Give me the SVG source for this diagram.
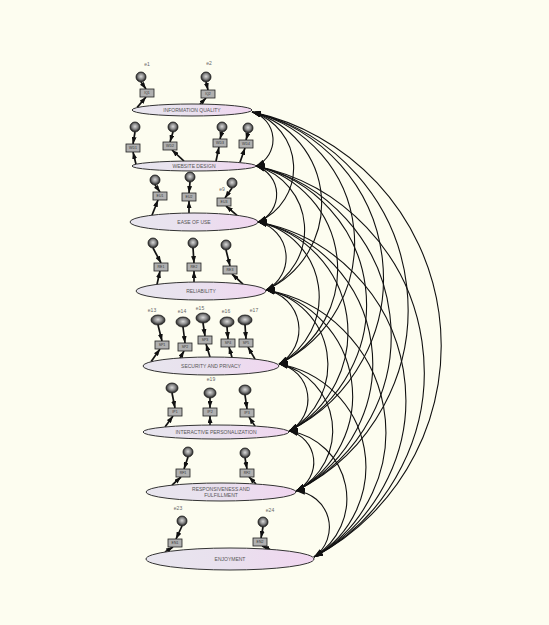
<svg xmlns="http://www.w3.org/2000/svg" width="549" height="625" viewBox="0 0 549 625">
<defs>
<style>
.lat{stroke:#333;stroke-width:1;fill:url(#latg)}
.ltx{font-family:"Liberation Sans",Arial,sans-serif;font-size:5px;fill:#555;text-anchor:middle}
.ind{fill:#b0b0b0;stroke:#222;stroke-width:0.8}
.itx{font-family:"Liberation Sans",Arial,sans-serif;font-size:3.5px;fill:#333;text-anchor:middle}
.err{fill:url(#errg);stroke:#1a1a1a;stroke-width:0.8}
.etx{font-family:"Liberation Sans",Arial,sans-serif;font-size:5px;fill:#666;text-anchor:middle}
.cov{fill:none;stroke:#111;stroke-width:1.1;marker-start:url(#ah);marker-end:url(#ah)}
.reg{fill:none;stroke:#111;stroke-width:1.7;marker-end:url(#ah2)}
</style>
<linearGradient id="latg" x1="0" y1="0" x2="1" y2="0">
<stop offset="0" stop-color="#e8e6ee"/>
<stop offset="0.5" stop-color="#e9e0ee"/>
<stop offset="1" stop-color="#f1d6f0"/>
</linearGradient>
<radialGradient id="errg" cx="0.5" cy="0.45" r="0.5">
<stop offset="0" stop-color="#d8d8d8"/>
<stop offset="0.55" stop-color="#8a8a8a"/>
<stop offset="1" stop-color="#2a2a2a"/>
</radialGradient>
<marker id="ah" markerWidth="9" markerHeight="6" refX="9" refY="3" orient="auto-start-reverse" markerUnits="userSpaceOnUse">
<path d="M0,0 L9,3 L0,6 z" fill="#111"/>
</marker>
<marker id="ah2" markerWidth="7" markerHeight="5" refX="7" refY="2.5" orient="auto" markerUnits="userSpaceOnUse">
<path d="M0,0 L7,2.5 L0,5 z" fill="#111"/>
</marker>
</defs>
<rect x="0" y="0" width="549" height="625" fill="#fdfdf0"/>

<g id="connectors">
<path class="cov" d="M252,112 A28.8,28.8 0 0 1 256,166"/>
<path class="cov" d="M252,112 A58.6,58.6 0 0 1 258,222"/>
<path class="cov" d="M252,112 A95,95 0 0 1 266,290"/>
<path class="cov" d="M252,112 A134.8,134.8 0 0 1 279,364"/>
<path class="cov" d="M252,112 A170.8,170.8 0 0 1 289,431"/>
<path class="cov" d="M252,112 A203,203 0 0 1 296,491"/>
<path class="cov" d="M252,112 A239,239 0 0 1 314,557"/>
<path class="cov" d="M256,166 A29.8,29.8 0 0 1 258,222"/>
<path class="cov" d="M256,166 A66.2,66.2 0 0 1 266,290"/>
<path class="cov" d="M256,166 A106,106 0 0 1 279,364"/>
<path class="cov" d="M256,166 A142,142 0 0 1 289,431"/>
<path class="cov" d="M256,166 A174.2,174.2 0 0 1 296,491"/>
<path class="cov" d="M256,166 A210.3,210.3 0 0 1 314,557"/>
<path class="cov" d="M258,222 A36.4,36.4 0 0 1 266,290"/>
<path class="cov" d="M258,222 A76.3,76.3 0 0 1 279,364"/>
<path class="cov" d="M258,222 A112.4,112.4 0 0 1 289,431"/>
<path class="cov" d="M258,222 A144.5,144.5 0 0 1 296,491"/>
<path class="cov" d="M258,222 A180.7,180.7 0 0 1 314,557"/>
<path class="cov" d="M266,290 A40,40 0 0 1 279,364"/>
<path class="cov" d="M266,290 A76,76 0 0 1 289,431"/>
<path class="cov" d="M266,290 A108.1,108.1 0 0 1 296,491"/>
<path class="cov" d="M266,290 A144.3,144.3 0 0 1 314,557"/>
<path class="cov" d="M279,364 A36,36 0 0 1 289,431"/>
<path class="cov" d="M279,364 A68.1,68.1 0 0 1 296,491"/>
<path class="cov" d="M279,364 A104.3,104.3 0 0 1 314,557"/>
<path class="cov" d="M289,431 A32.1,32.1 0 0 1 296,491"/>
<path class="cov" d="M289,431 A68.4,68.4 0 0 1 314,557"/>
<path class="cov" d="M296,491 A36.4,36.4 0 0 1 314,557"/>

<line class="reg" x1="137" y1="107.6" x2="146" y2="97"/>
<line class="reg" x1="200" y1="104.1" x2="206" y2="98"/>
<line class="reg" x1="136" y1="164.2" x2="133" y2="152"/>
<line class="reg" x1="184" y1="161.2" x2="172" y2="150"/>
<line class="reg" x1="216" y1="161.2" x2="219" y2="147"/>
<line class="reg" x1="240" y1="162.3" x2="245" y2="148"/>
<line class="reg" x1="152" y1="215.2" x2="158" y2="200"/>
<line class="reg" x1="189" y1="213" x2="189" y2="201"/>
<line class="reg" x1="237" y1="215.3" x2="226" y2="206"/>
<line class="reg" x1="157" y1="284.4" x2="160" y2="271"/>
<line class="reg" x1="194" y1="282" x2="194" y2="271"/>
<line class="reg" x1="243" y1="284.1" x2="232" y2="274"/>
<line class="reg" x1="151" y1="361.8" x2="160" y2="349"/>
<line class="reg" x1="180" y1="358" x2="184" y2="351"/>
<line class="reg" x1="210" y1="357" x2="206" y2="344"/>
<line class="reg" x1="232" y1="357.4" x2="229" y2="347"/>
<line class="reg" x1="255" y1="359.1" x2="248" y2="347"/>
<line class="reg" x1="165" y1="427" x2="173" y2="416"/>
<line class="reg" x1="210" y1="425" x2="210" y2="416"/>
<line class="reg" x1="255" y1="426.1" x2="249" y2="417"/>
<line class="reg" x1="172" y1="485.2" x2="181" y2="477"/>
<line class="reg" x1="256" y1="484" x2="249" y2="477"/>
<line class="reg" x1="165" y1="552" x2="173" y2="547"/>
<line class="reg" x1="270" y1="549.3" x2="262" y2="546"/>

<line class="reg" x1="141" y1="82" x2="146" y2="89"/>
<line class="reg" x1="206" y1="82" x2="208" y2="90"/>
<line class="reg" x1="135" y1="132" x2="133" y2="144"/>
<line class="reg" x1="173" y1="132" x2="170" y2="142"/>
<line class="reg" x1="222" y1="132" x2="220" y2="139"/>
<line class="reg" x1="248" y1="133" x2="246" y2="140"/>
<line class="reg" x1="155" y1="185" x2="160" y2="192"/>
<line class="reg" x1="190" y1="182" x2="189" y2="193"/>
<line class="reg" x1="232" y1="188" x2="225" y2="198"/>
<line class="reg" x1="153" y1="248" x2="161" y2="263"/>
<line class="reg" x1="193" y1="248" x2="194" y2="263"/>
<line class="reg" x1="226" y1="250" x2="230" y2="266"/>
<line class="reg" x1="158" y1="325" x2="162" y2="341"/>
<line class="reg" x1="183" y1="327" x2="185" y2="343"/>
<line class="reg" x1="203" y1="323" x2="205" y2="336"/>
<line class="reg" x1="227" y1="327" x2="228" y2="339"/>
<line class="reg" x1="245" y1="325" x2="246" y2="339"/>
<line class="reg" x1="172" y1="393" x2="175" y2="408"/>
<line class="reg" x1="210" y1="398" x2="210" y2="408"/>
<line class="reg" x1="245" y1="395" x2="247" y2="409"/>
<line class="reg" x1="188" y1="457" x2="184" y2="469"/>
<line class="reg" x1="245" y1="458" x2="247" y2="469"/>
<line class="reg" x1="182" y1="526" x2="176" y2="539"/>
<line class="reg" x1="263" y1="527" x2="261" y2="538"/>
</g>

<g id="iq">
<ellipse class="lat" cx="192" cy="110" rx="60" ry="6"/>
<text class="ltx" x="192" y="111.8">INFORMATION QUALITY</text>
</g>
<g id="wd">
<ellipse class="lat" cx="194" cy="166" rx="62" ry="5"/>
<text class="ltx" x="194" y="167.8">WEBSITE DESIGN</text>
</g>
<g id="eu">
<ellipse class="lat" cx="194" cy="222" rx="64" ry="9"/>
<text class="ltx" x="194" y="223.8">EASE OF USE</text>
</g>
<g id="re">
<ellipse class="lat" cx="201" cy="291" rx="65" ry="9"/>
<text class="ltx" x="201" y="292.8">RELIABILITY</text>
</g>
<g id="sp">
<ellipse class="lat" cx="211" cy="366" rx="68" ry="9"/>
<text class="ltx" x="211" y="367.8">SECURITY AND PRIVACY</text>
</g>
<g id="ip">
<ellipse class="lat" cx="216" cy="432" rx="73" ry="7"/>
<text class="ltx" x="216" y="433.8">INTERACTIVE PERSONALIZATION</text>
</g>
<g id="rf">
<ellipse class="lat" cx="221" cy="492" rx="75" ry="9"/>
<text class="ltx" x="221" y="490.5">RESPONSIVENESS AND</text>
<text class="ltx" x="221" y="496.5">FULFILLMENT</text>
</g>
<g id="en">
<ellipse class="lat" cx="230" cy="559" rx="84" ry="11"/>
<text class="ltx" x="230" y="560.8">ENJOYMENT</text>
</g>

<g id="iq1"><circle class="err" cx="141" cy="77" r="5"/><text class="etx" x="147" y="66">e1</text><rect class="ind" x="140" y="89" width="14" height="8"/><text class="itx" x="147" y="94.2">IQ1</text></g>
<g id="iq2"><circle class="err" cx="206" cy="77" r="5"/><text class="etx" x="209" y="65">e2</text><rect class="ind" x="201" y="90" width="14" height="8"/><text class="itx" x="208" y="95.2">IQ2</text></g>

<g id="wd1"><circle class="err" cx="135" cy="127" r="5"/><rect class="ind" x="126" y="144" width="14" height="8"/><text class="itx" x="133" y="149.2">WD1</text></g>
<g id="wd2"><circle class="err" cx="173" cy="127" r="5"/><rect class="ind" x="163" y="142" width="14" height="8"/><text class="itx" x="170" y="147.2">WD2</text></g>
<g id="wd3"><circle class="err" cx="222" cy="127" r="5"/><rect class="ind" x="213" y="139" width="14" height="8"/><text class="itx" x="220" y="144.2">WD3</text></g>
<g id="wd4"><circle class="err" cx="248" cy="128" r="5"/><rect class="ind" x="239" y="140" width="14" height="8"/><text class="itx" x="246" y="145.2">WD4</text></g>

<g id="eu1"><circle class="err" cx="155" cy="180" r="5"/><rect class="ind" x="153" y="192" width="14" height="8"/><text class="itx" x="160" y="197.2">EU1</text></g>
<g id="eu2"><circle class="err" cx="190" cy="177" r="5"/><rect class="ind" x="182" y="193" width="14" height="8"/><text class="itx" x="189" y="198.2">EU2</text></g>
<g id="eu3"><circle class="err" cx="232" cy="183" r="5"/><text class="etx" x="222" y="191">e9</text><rect class="ind" x="217" y="198" width="14" height="8"/><text class="itx" x="224" y="203.2">EU3</text></g>

<g id="re1"><circle class="err" cx="153" cy="243" r="5"/><rect class="ind" x="154" y="263" width="14" height="8"/><text class="itx" x="161" y="268.2">RE1</text></g>
<g id="re2"><circle class="err" cx="193" cy="243" r="5"/><rect class="ind" x="187" y="263" width="14" height="8"/><text class="itx" x="194" y="268.2">RE2</text></g>
<g id="re3"><circle class="err" cx="226" cy="245" r="5"/><rect class="ind" x="223" y="266" width="14" height="8"/><text class="itx" x="230" y="271.2">RE3</text></g>

<g id="sp1"><ellipse class="err" cx="158" cy="320" rx="7" ry="5"/><text class="etx" x="152" y="312">e13</text><rect class="ind" x="155" y="341" width="14" height="8"/><text class="itx" x="162" y="346.2">SP1</text></g>
<g id="sp2"><ellipse class="err" cx="183" cy="322" rx="7" ry="5"/><text class="etx" x="182" y="313">e14</text><rect class="ind" x="178" y="343" width="14" height="8"/><text class="itx" x="185" y="348.2">SP2</text></g>
<g id="sp3"><ellipse class="err" cx="203" cy="318" rx="7" ry="5"/><text class="etx" x="200" y="310">e15</text><rect class="ind" x="198" y="336" width="14" height="8"/><text class="itx" x="205" y="341.2">SP3</text></g>
<g id="sp4"><ellipse class="err" cx="227" cy="322" rx="7" ry="5"/><text class="etx" x="226" y="313">e16</text><rect class="ind" x="221" y="339" width="14" height="8"/><text class="itx" x="228" y="344.2">SP4</text></g>
<g id="sp5"><ellipse class="err" cx="245" cy="320" rx="7" ry="5"/><text class="etx" x="254" y="312">e17</text><rect class="ind" x="239" y="339" width="14" height="8"/><text class="itx" x="246" y="344.2">SP5</text></g>

<g id="ip1"><ellipse class="err" cx="172" cy="388" rx="6" ry="5"/><rect class="ind" x="168" y="408" width="14" height="8"/><text class="itx" x="175" y="413.2">IP1</text></g>
<g id="ip2"><ellipse class="err" cx="210" cy="393" rx="6" ry="5"/><text class="etx" x="211" y="381">e19</text><rect class="ind" x="203" y="408" width="14" height="8"/><text class="itx" x="210" y="413.2">IP2</text></g>
<g id="ip3"><ellipse class="err" cx="245" cy="390" rx="6" ry="5"/><rect class="ind" x="240" y="409" width="14" height="8"/><text class="itx" x="247" y="414.2">IP3</text></g>

<g id="rf1"><circle class="err" cx="188" cy="452" r="5"/><rect class="ind" x="176" y="469" width="14" height="8"/><text class="itx" x="183" y="474.2">RF1</text></g>
<g id="rf2"><circle class="err" cx="245" cy="453" r="5"/><rect class="ind" x="240" y="469" width="14" height="8"/><text class="itx" x="247" y="474.2">RF2</text></g>

<g id="en1"><circle class="err" cx="182" cy="521" r="5"/><text class="etx" x="178" y="510">e23</text><rect class="ind" x="168" y="539" width="14" height="8"/><text class="itx" x="175" y="544.2">EN1</text></g>
<g id="en2"><circle class="err" cx="263" cy="522" r="5"/><text class="etx" x="270" y="512">e24</text><rect class="ind" x="253" y="538" width="14" height="8"/><text class="itx" x="260" y="543.2">EN2</text></g>
</svg>
